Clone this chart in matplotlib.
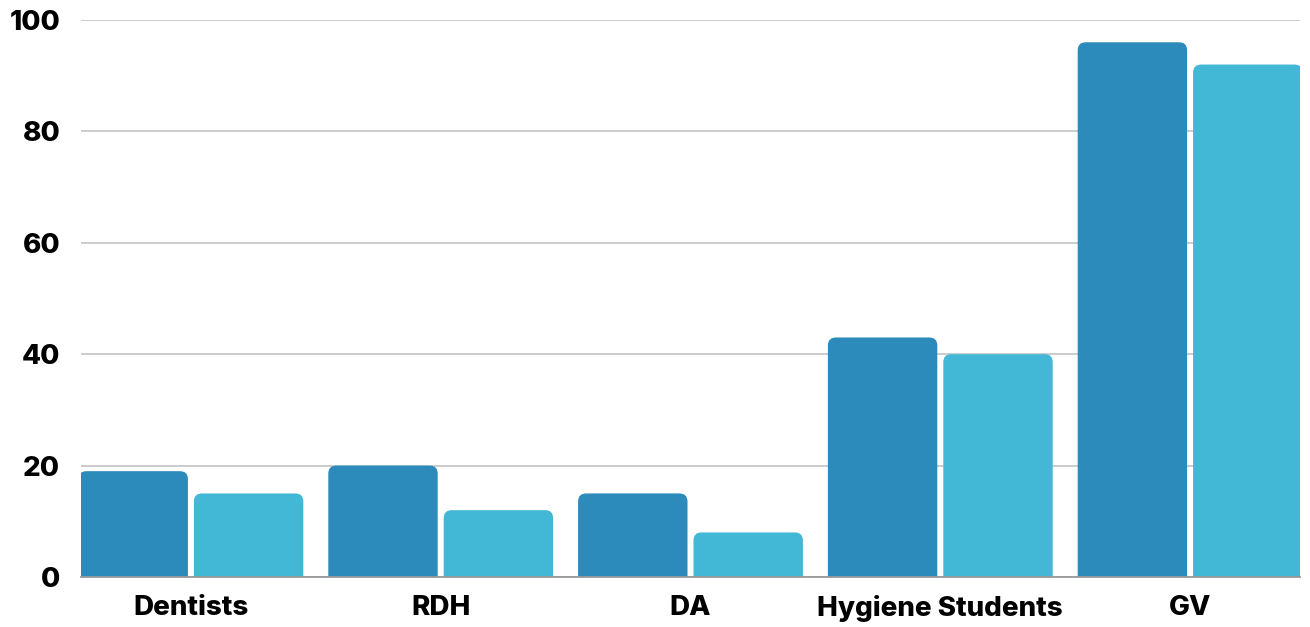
import matplotlib
matplotlib.use("Agg")
import matplotlib.pyplot as plt
import matplotlib.patches as patches
import numpy as np

categories = ["Dentists", "RDH", "DA", "Hygiene Students", "GV"]
series_a = [19, 20, 15, 43, 96]
series_b = [15, 12, 8, 40, 92]
y_ticks = [0, 20, 40, 60, 80, 100]

color_a = "#2C8BBA"
color_b = "#42B7D6"

plt.rcParams["font.family"] = ["Inter", "DejaVu Sans"]

fig = plt.figure(figsize=(13.10, 6.27), dpi=100)
ax = fig.add_axes([81 / 1310, 1 - 577 / 627, (1300 - 81) / 1310, (577 - 20) / 627])

x = np.arange(len(categories))
width = 0.438
gap = 0.024

bars_a = ax.bar(x - (width + gap) / 2, series_a, width, color=color_a)
bars_b = ax.bar(x + (width + gap) / 2, series_b, width, color=color_b)

ax.set_xlim(-0.44, len(categories) - 1 + 0.44)
ax.set_ylim(0, 100)

# swap the square bars for ones with rounded tops
radius = 0.032
aspect = 44.9
for container in (bars_a, bars_b):
    for rect in container:
        rx, ry = rect.get_x(), rect.get_y()
        w, h = rect.get_width(), rect.get_height()
        patch = patches.FancyBboxPatch(
            (rx, ry - 3),
            w,
            h + 3,
            boxstyle=f"round,pad=0,rounding_size={radius}",
            mutation_aspect=aspect,
            facecolor=rect.get_facecolor(),
            edgecolor="none",
            zorder=2,
        )
        ax.add_patch(patch)
        rect.set_visible(False)

ax.set_yticks(y_ticks)
ax.set_yticklabels([str(v) for v in y_ticks])
ax.set_xticks(x)
ax.set_xticklabels(categories)
ax.yaxis.grid(True, color="#C8C8C8", linewidth=1.3)
ax.set_axisbelow(True)
ax.tick_params(axis="both", length=0, labelsize=20)
ax.tick_params(axis="y", pad=15)
ax.tick_params(axis="x", pad=13)
for lab in ax.get_xticklabels() + ax.get_yticklabels():
    lab.set_fontweight("heavy")

for side in ("top", "right", "left"):
    ax.spines[side].set_visible(False)
ax.spines["bottom"].set_color("#999999")
ax.spines["bottom"].set_linewidth(1.3)
ax.spines["bottom"].set_zorder(3)

fig.savefig("out.png", dpi=100, facecolor="white")
